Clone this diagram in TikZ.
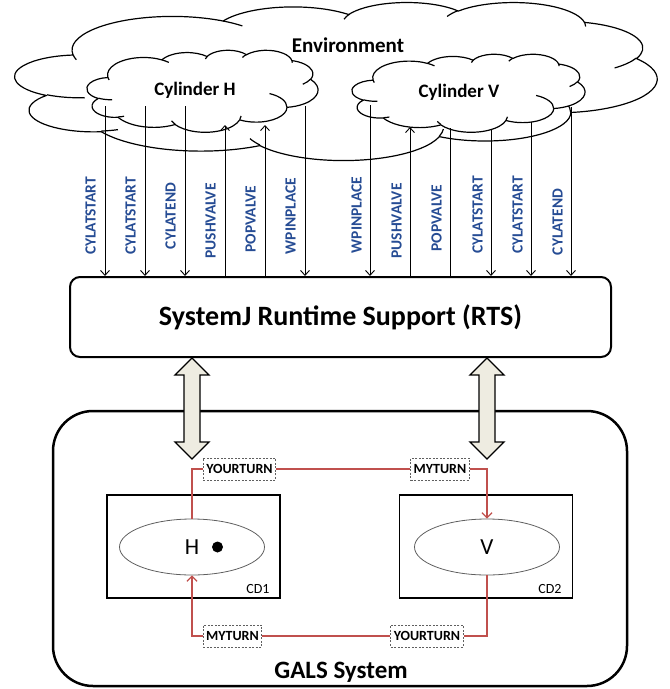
\documentclass[tikz,border=0pt]{standalone}
\usepackage{fontspec}
\setmainfont{Carlito}
\usetikzlibrary{arrows.meta,shapes.geometric}
\definecolor{lblue}{RGB}{38,76,148}
\definecolor{cred}{RGB}{192,80,77}
\definecolor{dfill}{RGB}{238,236,225}
\definecolor{dgray}{RGB}{95,95,95}

% OOXML-style arcTo (visual angles) appended to a path macro
\newcommand\ooA[5]{%
  \pgfmathsetmacro\ooS{atan2((#2)*sin(#4),(#3)*cos(#4))}%
  \pgfmathsetmacro\ooE{atan2((#2)*sin((#4)+(#5)),(#3)*cos((#4)+(#5)))}%
  \pgfmathsetmacro\ooD{\ooE-\ooS}%
  \pgfmathsetmacro\ooD{(#5)>0 ? (\ooD<0 ? \ooD+360 : \ooD) : (\ooD>0 ? \ooD-360 : \ooD)}%
  \xdef#1{#1 arc[start angle=\ooS, delta angle=\ooD, x radius=#2, y radius=#3]}%
}
\gdef\oomain{(3.900,14.370)}
\ooA\oomain{6.753}{9.190}{-190.4875}{123.7805}
\ooA\oomain{5.333}{7.267}{-144.1024}{89.9452}
\ooA\oomain{4.365}{5.945}{-145.8079}{99.7230}
\ooA\oomain{4.857}{6.595}{-130.9861}{117.2417}
\ooA\oomain{5.333}{7.273}{-78.7089}{109.0269}
\ooA\oomain{6.775}{9.220}{-46.2673}{130.2690}
\ooA\oomain{5.785}{7.867}{0.6250}{114.0333}
\ooA\oomain{6.752}{9.215}{22.4516}{115.1726}
\ooA\oomain{7.720}{10.543}{66.2426}{75.7110}
\ooA\oomain{4.360}{5.918}{-274.9421}{146.7356}
\ooA\oomain{4.345}{5.945}{-246.8285}{152.5189}
\xdef\oomain{\oomain -- cycle}

\gdef\ooin{(4.693,26.177)}
\ooA\ooin{4.345}{5.945}{86.7420}{26.4295}
\xdef\ooin{\ooin (6.928,34.899)}
\ooA\ooin{4.360}{5.918}{73.6105}{11.4475}
\xdef\ooin{\ooin (16.478,39.090)}
\ooA\ooin{6.752}{9.215}{137.6242}{14.0811}
\xdef\ooin{\ooin (28.827,34.751)}
\ooA\ooin{6.752}{9.215}{6.4533}{15.9984}
\xdef\ooin{\ooin (34.129,22.954)}
\ooA\ooin{5.785}{7.867}{-70.2924}{70.9174}
\xdef\ooin{\ooin (41.798,15.354)}
\ooA\ooin{5.333}{7.273}{30.3180}{27.7515}
\xdef\ooin{\ooin (38.324,5.426)}
\ooA\ooin{4.857}{6.595}{-13.7443}{14.8589}
\xdef\ooin{\ooin (29.078,3.952)}
\ooA\ooin{4.857}{6.595}{-149.1815}{18.1954}
\xdef\ooin{\ooin (22.141,4.720)}
\ooA\ooin{4.365}{5.945}{-163.4943}{17.6864}
\xdef\ooin{\ooin (14.000,5.192)}
\ooA\ooin{6.753}{9.190}{-66.7070}{12.3194}
\xdef\ooin{\ooin (4.127,15.789)}
\ooA\ooin{6.753}{9.190}{157.6544}{11.8582}

\newcommand\oocloud[4]{%
  \begin{scope}[shift={(#1,#2)},xscale=#3/43.2,yscale=#4/43.2]
    \edef\ootmp{\noexpand\draw[cloudshape] \oomain;}\ootmp
    \edef\ootmp{\noexpand\draw[cloudarc] \ooin;}\ootmp
  \end{scope}}

\begin{document}
\begin{tikzpicture}[x=1pt,y=-1pt,
  cloudshape/.style={line width=1.2pt,fill=white,line join=round},
  cloudarc/.style={line width=1.2pt},
  sig/.style={line width=0.9pt},
  tip/.style={-{Straight Barb[length=5pt,width=9pt]}},
  lbl/.style={text=lblue,font=\fontsize{15.5}{15.5}\selectfont\bfseries,rotate=90,inner sep=0pt},
  tok/.style={draw=dgray,dash pattern=on 2pt off 1.5pt,line width=0.8pt,fill=white,
    font=\fontsize{14}{14}\selectfont\bfseries,inner xsep=3pt,inner ysep=0pt,minimum height=22pt},
  rl/.style={draw=cred,line width=1.3pt},
  rtip/.style={-{Straight Barb[length=5pt,width=10pt]}},
  dbl/.style={draw,line width=1.3pt,fill=dfill,line join=miter},
  ell/.style={ellipse,draw=dgray,line width=0.8pt,minimum width=145pt,minimum height=56pt,
    inner sep=0pt,font=\fontsize{23}{23}\selectfont},
  cdbox/.style={draw,line width=1.5pt,minimum width=173pt,minimum height=103pt},
]
\useasboundingbox (0,0) rectangle (670,689);

% clouds
\oocloud{15}{2}{642}{158}
\oocloud{87}{50}{231}{82}
\oocloud{352}{54}{233}{78}
\node[font=\fontsize{21}{21}\selectfont\bfseries] (env) at (348,45) {Environment};
\node[font=\fontsize{19}{19}\selectfont\bfseries] (cylh) at (195,90) {Cylinder H};
\node[font=\fontsize{19}{19}\selectfont\bfseries] (cylv) at (459,92) {Cylinder V};

% RTS
\node[draw,line width=2pt,rounded corners=10pt,minimum width=541pt,minimum height=80pt,
  font=\fontsize{28}{28}\selectfont\bfseries] (rts) at (340.5,317) {SystemJ Runtime Support (RTS)};

% signal line ends
\coordinate (h1) at (105,106);
\coordinate (h2) at (145,106);
\coordinate (h3) at (185,106);
\coordinate (h4) at (225,125);
\coordinate (h5) at (265,125);
\coordinate (h6) at (305,106);
\coordinate (v1) at (370,105);
\coordinate (v2) at (410,127);
\coordinate (v3) at (450,128);
\coordinate (v4) at (491,130);
\coordinate (v5) at (531,122);
\coordinate (v6) at (571,107);

\draw[sig,tip] (h1) -- (h1 |- rts.north);
\draw[sig,tip] (h2) -- (h2 |- rts.north);
\draw[sig,tip] (h3) -- (h3 |- rts.north);
\draw[sig,tip] (h4 |- rts.north) -- (h4);
\draw[sig,tip] (h5 |- rts.north) -- (h5);
\draw[sig,tip] (h6) -- (h6 |- rts.north);
\draw[sig,tip] (v1) -- (v1 |- rts.north);
\draw[sig,tip] (v2 |- rts.north) -- (v2);
\draw[sig] (v3 |- rts.north) -- (v3);
\draw[sig,tip] (v4) -- (v4 |- rts.north);
\draw[sig,tip] (v5) -- (v5 |- rts.north);
\draw[sig,tip] (v6) -- (v6 |- rts.north);

% labels
\node[lbl] (lh1) at (90.5,216) {CYLATSTART};
\node[lbl] (lh2) at (130.5,216) {CYLATSTART};
\node[lbl] (lh3) at (170.5,216) {CYLATEND};
\node[lbl] (lh4) at (210.5,221) {PUSHVALVE};
\node[lbl] (lh5) at (250.5,219) {POPVALVE};
\node[lbl] (lh6) at (290.5,216) {WPINPLACE};
\node[lbl] (lv1) at (356.5,215) {WPINPLACE};
\node[lbl] (lv2) at (396.5,221) {PUSHVALVE};
\node[lbl] (lv3) at (436.5,218) {POPVALVE};
\node[lbl] (lv4) at (477.5,215) {CYLATSTART};
\node[lbl] (lv5) at (517.5,215) {CYLATSTART};
\node[lbl] (lv6) at (557.5,222) {CYLATEND};

% GALS system
\node[draw,line width=2.5pt,rounded corners=40pt,minimum width=574pt,minimum height=275pt] (gals) at (340,548.5) {};
\node[font=\fontsize{25}{25}\selectfont\bfseries] (galst) at (341,672) {GALS System};

\node[cdbox] (cd1) at (193.5,546.5) {};
\node[cdbox] (cd2) at (486,546.5) {};
\node[font=\fontsize{14}{14}\selectfont] (cd1t) at (258,589) {CD1};
\node[font=\fontsize{14}{14}\selectfont] (cd2t) at (550,589) {CD2};

\node[ell] (eh) at (192,547) {H};
\node[circle,fill,minimum size=11pt,inner sep=0pt] (dot) at (217.5,547) {};
\node[ell] (ev) at (487,547) {V};

% double arrows
\draw[dbl] (eh.north |- rts.south) -- ++(17,17) -- ++(-9,0) -- ++(0,67) -- ++(9,0) -- ++(-17,17)
  -- ++(-17,-17) -- ++(9,0) -- ++(0,-67) -- ++(-9,0) -- cycle;
\draw[dbl] (ev.north |- rts.south) -- ++(17,17) -- ++(-9,0) -- ++(0,67) -- ++(9,0) -- ++(-17,17)
  -- ++(-17,-17) -- ++(9,0) -- ++(0,-67) -- ++(-9,0) -- cycle;

% tokens
\node[tok] (yt1) at (239.5,469) {YOURTURN};
\node[tok] (mt1) at (440,469) {MYTURN};
\node[tok] (mt2) at (232.5,636) {MYTURN};
\node[tok] (yt2) at (427,636) {YOURTURN};

\draw[rl] (eh.north) |- (yt1.west);
\draw[rl] (yt1.east) -- (mt1.west);
\draw[rl,rtip] (mt1.east) -| (ev.north);
\draw[rl] (ev.south) |- (yt2.east);
\draw[rl] (yt2.west) -- (mt2.east);
\draw[rl,rtip] (mt2.west) -| (eh.south);
\end{tikzpicture}
\end{document}
